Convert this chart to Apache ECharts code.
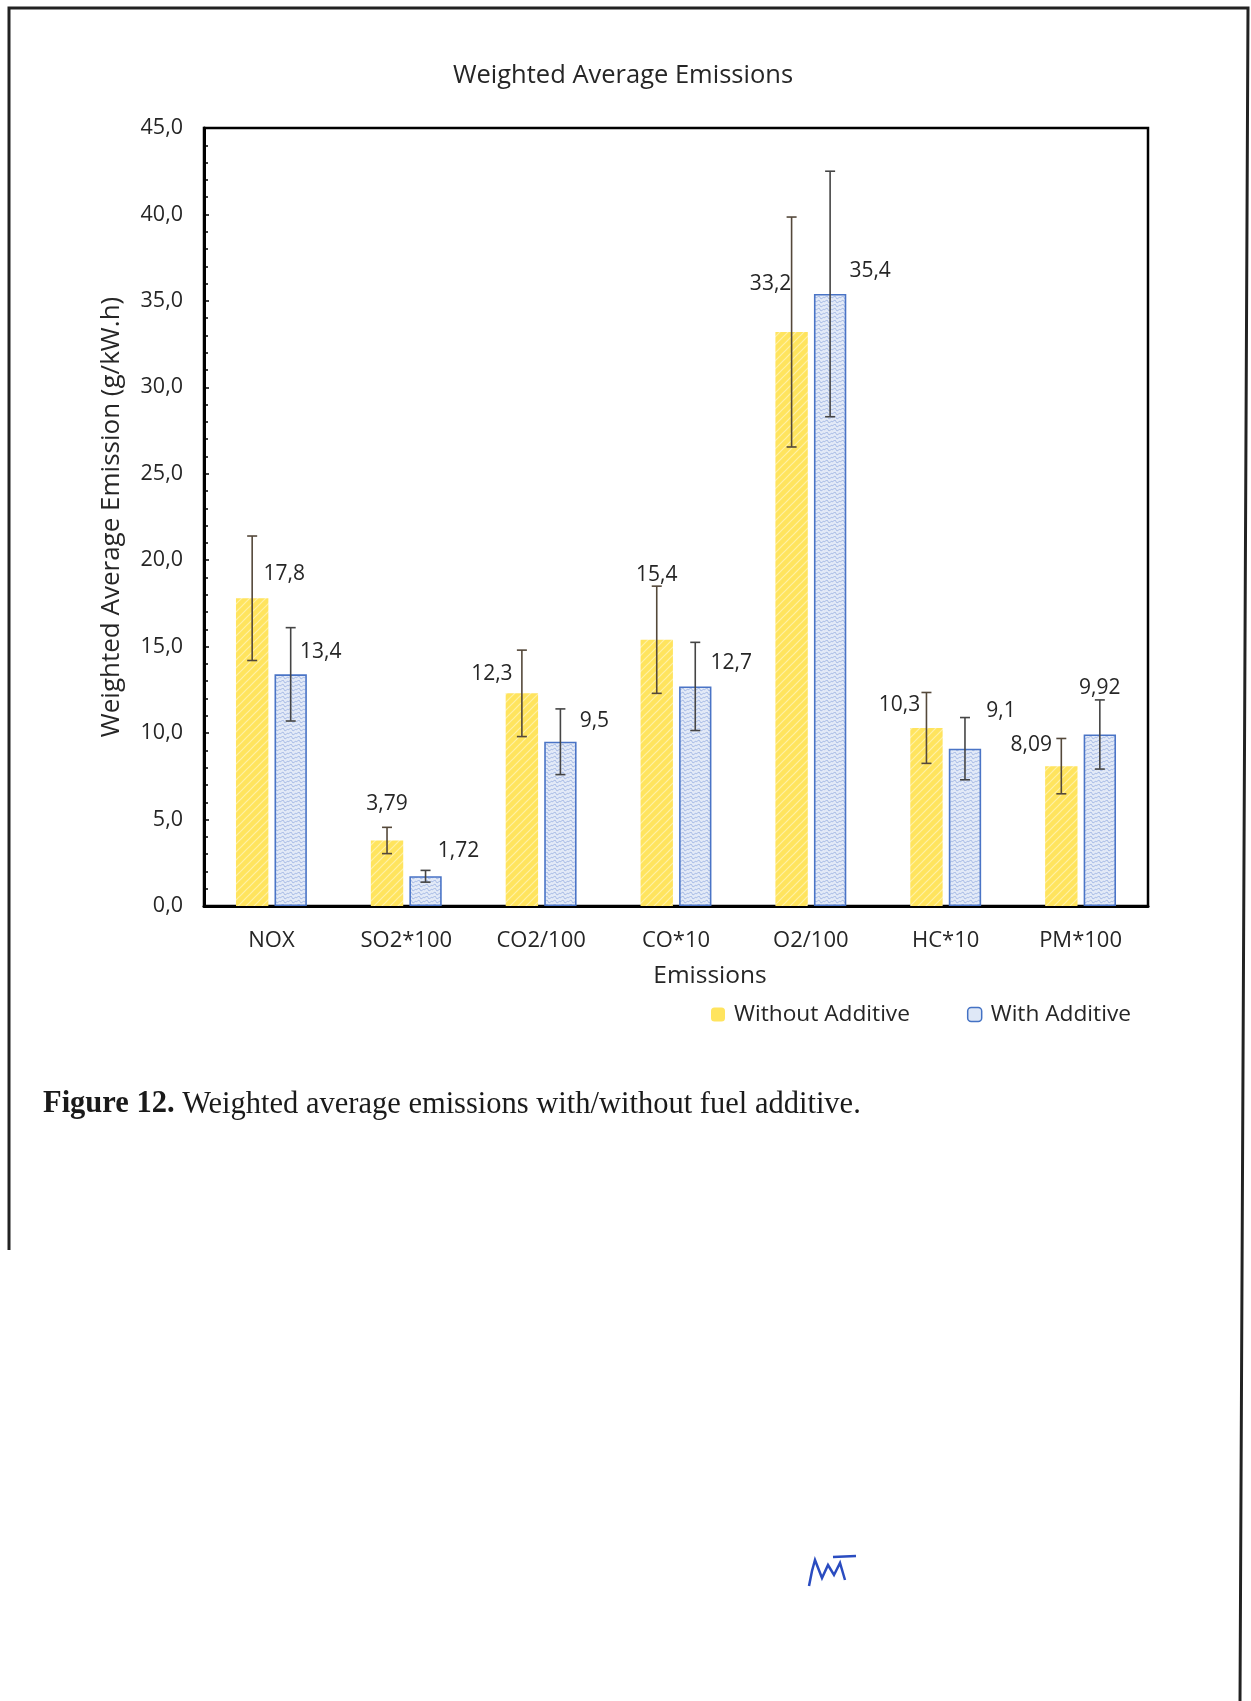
<!DOCTYPE html>
<html>
<head>
<meta charset="utf-8">
<script src="https://cdn.jsdelivr.net/npm/echarts@6/dist/echarts.min.js"></script>
<style>
  html, body { margin: 0; padding: 0; background: #fff; }
  #chart { width: 1251px; height: 1701px; }
</style>
</head>
<body>
<div id="chart"></div>
<script>
// chart values
var categories = ['NOX', 'SO2*100', 'CO2/100', 'CO*10', 'O2/100', 'HC*10', 'PM*100'];
var withoutAdditive = [17.8, 3.79, 12.3, 15.4, 33.2, 10.3, 8.09];
var withAdditive = [13.4, 1.72, 9.5, 12.7, 35.4, 9.1, 9.92];
// error bar half lengths
var errWithout = [3.6, 0.76, 2.5, 3.1, 6.65, 2.05, 1.6];
var errWith = [2.7, 0.34, 1.9, 2.55, 7.1, 1.8, 2.0];
var yTicks = [0, 5, 10, 15, 20, 25, 30, 35, 40, 45];

// label nudges, px (labels were hand placed in the original)
var offWithout = [[32, -14], [0, -26], [-30, -9], [0, -54], [-21, -37], [-27, -12], [-30, -11]];
var offWith = [[30, -12], [33, -15], [34, -10], [36, -13], [40, -12], [36, -27], [0, -36]];

var FONT = 'Open Sans';

function comma(v) {
    return String(v).replace('.', ',');
}

// hatch fills like the excel pattern fills
function makePattern(kind) {
    var c = document.createElement('canvas');
    c.width = 8; c.height = 8;
    var g = c.getContext('2d');
    if (kind === 'yellow') {
        g.fillStyle = '#ffe45e';
        g.fillRect(0, 0, 8, 8);
        g.strokeStyle = '#fff1a6';
        g.lineWidth = 1.2;
        g.beginPath();
        g.moveTo(0, 8); g.lineTo(8, 0);
        g.moveTo(-4, 4); g.lineTo(4, -4);
        g.moveTo(4, 12); g.lineTo(12, 4);
        g.stroke();
    } else {
        g.fillStyle = '#e3eaf7';
        g.fillRect(0, 0, 8, 8);
        g.strokeStyle = '#a9bde6';
        g.lineWidth = 1;
        g.beginPath();
        g.moveTo(0, 2); g.lineTo(3, 0); g.lineTo(5, 3); g.lineTo(8, 1);
        g.moveTo(0, 6); g.lineTo(3, 4); g.lineTo(5, 7); g.lineTo(8, 5);
        g.stroke();
    }
    return c;
}

var yellowFill = { image: makePattern('yellow'), repeat: 'repeat' };
var blueFill = { image: makePattern('blue'), repeat: 'repeat' };

function barData(vals, offs) {
    return vals.map(function (v, i) {
        return { value: v, label: { offset: offs[i] } };
    });
}

function errData(vals, errs) {
    return vals.map(function (v, i) {
        return [i, v, errs[i]];
    });
}

var BAR_W = 0.24, BAR_GAP = 0.19;

function errorBars(side, color) {
    return function (params, api) {
        var idx = api.value(0);
        var v = api.value(1), e = api.value(2);
        var catW = api.size([1, 0])[0];
        var w = catW * BAR_W;
        var shift = side * (w + w * BAR_GAP) / 2;
        var top = api.coord([idx, v + e]);
        var bot = api.coord([idx, v - e]);
        var x = top[0] + shift;
        var cap = 5;
        var st = { stroke: color, lineWidth: 1.6 };
        return {
            type: 'group',
            children: [
                { type: 'line', shape: { x1: x, y1: top[1], x2: x, y2: bot[1] }, style: st },
                { type: 'line', shape: { x1: x - cap, y1: top[1], x2: x + cap, y2: top[1] }, style: st },
                { type: 'line', shape: { x1: x - cap, y1: bot[1], x2: x + cap, y2: bot[1] }, style: st }
            ]
        };
    };
}

var chart = echarts.init(document.getElementById('chart'));

var option = {
    backgroundColor: '#fff',
    animation: false,
    textStyle: { fontFamily: FONT, color: '#262626' },
    title: {
        text: 'Weighted Average Emissions',
        left: 618,
        top: 58,
        textAlign: 'center',
        textStyle: { fontFamily: FONT, fontSize: 25.5, fontWeight: 'normal', color: '#262626' }
    },
    legend: {
        left: 711,
        top: 1003,
        padding: 0,
        itemWidth: 14,
        itemHeight: 14,
        itemGap: 57,
        textStyle: { fontFamily: FONT, fontSize: 22.7, color: '#262626', padding: [0, 0, 0, 4] },
        data: [
            { name: 'Without Additive', itemStyle: { color: '#ffe45e', borderWidth: 0 } },
            { name: 'With Additive', itemStyle: { color: '#dfe8f7', borderColor: '#4472c4', borderWidth: 1.5 } }
        ]
    },
    grid: {
        left: 204,
        right: 103,
        top: 128,
        bottom: 795,
        show: true,
        borderColor: '#000',
        borderWidth: 2.5
    },
    xAxis: {
        type: 'category',
        data: categories,
        name: 'Emissions',
        nameLocation: 'middle',
        nameGap: 58,
        nameTextStyle: { fontFamily: FONT, fontSize: 24.5, color: '#262626', padding: [0, 0, 0, 68] },
        axisLine: { lineStyle: { color: '#000', width: 3 } },
        axisTick: { show: false },
        axisLabel: { fontFamily: FONT, fontSize: 22, color: '#262626', margin: 24 }
    },
    yAxis: {
        type: 'value',
        min: yTicks[0],
        max: yTicks[yTicks.length - 1],
        interval: yTicks[1] - yTicks[0],
        name: 'Weighted Average Emission (g/kW.h)',
        nameLocation: 'middle',
        nameGap: 79,
        nameTextStyle: { fontFamily: FONT, fontSize: 26, color: '#262626' },
        axisLine: { show: true, lineStyle: { color: '#000', width: 3 } },
        axisTick: { show: true, inside: true, length: 5, lineStyle: { color: '#000', width: 1.5 } },
        minorTick: { show: true, splitNumber: 5, length: 4, lineStyle: { color: '#000', width: 1.5 } },
        splitLine: { show: false },
        axisLabel: {
            fontFamily: FONT, fontSize: 21.5, color: '#262626', margin: 21,
            formatter: function (v) { return v.toFixed(1).replace('.', ','); }
        }
    },
    series: [
        {
            name: 'Without Additive',
            type: 'bar',
            barWidth: (BAR_W * 100) + '%',
            barGap: (BAR_GAP * 100) + '%',
            itemStyle: { color: yellowFill },
            label: {
                show: true, position: 'top', distance: 0,
                fontFamily: FONT, fontSize: 21, color: '#262626',
                formatter: function (p) { return comma(p.value); }
            },
            data: barData(withoutAdditive, offWithout)
        },
        {
            name: 'With Additive',
            type: 'bar',
            barWidth: (BAR_W * 100) + '%',
            barGap: (BAR_GAP * 100) + '%',
            itemStyle: { color: blueFill, borderColor: '#4a74c6', borderWidth: 1.6 },
            label: {
                show: true, position: 'top', distance: 0,
                fontFamily: FONT, fontSize: 21, color: '#262626',
                formatter: function (p) { return comma(p.value); }
            },
            data: barData(withAdditive, offWith)
        },
        {
            type: 'custom',
            name: 'errWithout',
            renderItem: errorBars(-1, '#54483a'),
            data: errData(withoutAdditive, errWithout),
            z: 10,
            silent: true
        },
        {
            type: 'custom',
            name: 'errWith',
            renderItem: errorBars(1, '#454545'),
            data: errData(withAdditive, errWith),
            z: 10,
            silent: true
        }
    ],
    graphic: [
        // scanned page frame
        {
            type: 'polyline',
            shape: { points: [[9, 1250], [9, 8], [1248, 8], [1240, 1701]] },
            style: { stroke: '#222', lineWidth: 3, fill: null }
        },
        {
            type: 'text',
            left: 43,
            top: 1089,
            style: {
                text: '{b|Figure 12.} Weighted average emissions with/without fuel additive.',
                font: '30.5px "Liberation Serif"',
                fill: '#1a1a1a',
                rich: {
                    b: { font: 'bold 30.5px "Liberation Serif"', fill: '#1a1a1a' }
                }
            }
        },
        // initials scribble
        {
            type: 'polyline',
            shape: { points: [[809, 1586], [812, 1571], [815, 1560], [822, 1578], [828, 1565], [834, 1575], [840, 1563], [845, 1580]] },
            style: { stroke: '#2a4cc0', lineWidth: 2.5, fill: null }
        },
        {
            type: 'line',
            shape: { x1: 833, y1: 1557, x2: 856, y2: 1556 },
            style: { stroke: '#2a4cc0', lineWidth: 2.5 }
        }
    ]
};

chart.setOption(option);
</script>
</body>
</html>
